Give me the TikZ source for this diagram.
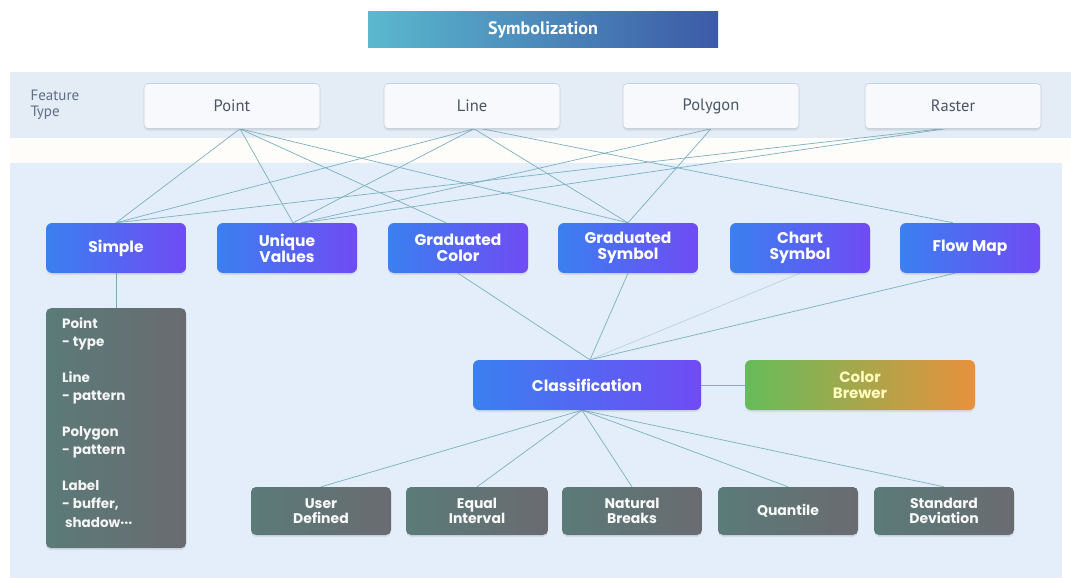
\documentclass[tikz,border=0pt]{standalone}
\usepackage{fontspec}
\setmainfont{PT Sans}
\newfontfamily\boxfont{Poppins}
\usetikzlibrary{shadows}
\pgfdeclarelayer{back}
\pgfdeclarelayer{lines}
\pgfsetlayers{back,lines,main}

\definecolor{bandblue}{HTML}{E4ECF6}
\definecolor{gapcream}{HTML}{FEFDFA}
\definecolor{panelblue}{HTML}{E3EEFA}
\definecolor{linkcol}{HTML}{7AB0BF}
\definecolor{titleL}{HTML}{5AB8CE}
\definecolor{titleR}{HTML}{3C5AA7}
\definecolor{symL}{HTML}{3A80F0}
\definecolor{symR}{HTML}{704BF4}
\definecolor{grayL}{HTML}{5A7B78}
\definecolor{grayR}{HTML}{6A6B70}
\definecolor{brewL}{HTML}{66BC5A}
\definecolor{brewR}{HTML}{E8913C}
\definecolor{fttext}{HTML}{5D6F86}
\definecolor{boxtext}{HTML}{4A5566}
\definecolor{boxedge}{HTML}{C6D1DE}

\tikzset{
  titlebox/.style={rectangle, minimum width=350, minimum height=36,
    left color=titleL, right color=titleR, text=white,
    font=\fontsize{18}{20}\selectfont\bfseries},
  ftbox/.style={rectangle, rounded corners=4pt, minimum width=176, minimum height=45,
    fill=white!70!bandblue, draw=boxedge, line width=0.6pt, text=boxtext,
    font=\fontsize{16.5}{18}\selectfont,
    drop shadow={opacity=0.18, shadow xshift=0pt, shadow yshift=-2pt}},
  symbox/.style={rectangle, rounded corners=6pt, minimum width=140, minimum height=50,
    left color=symL, right color=symR, text=white, align=center,
    font=\boxfont\fontsize{15.5}{16}\selectfont\bfseries,
    drop shadow={opacity=0.15, shadow xshift=0pt, shadow yshift=-2pt}},
  graybox/.style={rectangle, rounded corners=5pt, minimum width=140, minimum height=48,
    left color=grayL, right color=grayR, text=white!95!gray, align=center,
    font=\boxfont\fontsize{14}{15.5}\selectfont\bfseries,
    drop shadow={opacity=0.15, shadow xshift=0pt, shadow yshift=-2pt}},
  brewbox/.style={rectangle, rounded corners=6pt, minimum width=230, minimum height=50,
    left color=brewL, right color=brewR, text=white!75!yellow, align=center,
    font=\boxfont\fontsize{15}{16.5}\selectfont\bfseries,
    drop shadow={opacity=0.15, shadow xshift=0pt, shadow yshift=-2pt}},
  link/.style={draw=linkcol, line width=0.7pt},
}

\begin{document}
\begin{tikzpicture}[x=1pt, y=-1pt]
\useasboundingbox (0,0) rectangle (1071,578);

% backdrop bands
\begin{pgfonlayer}{back}
  \fill[white] (0,0) rectangle (1071,578);
  \fill[bandblue] (10,72) rectangle (1071,138);
  \fill[gapcream] (10,138) rectangle (1071,163);
  \fill[panelblue] (10,163) rectangle (1062,578);
\end{pgfonlayer}

% title
\node[titlebox] (title) at (543,30) {Symbolization};

% feature types
\node[anchor=west, align=left, text=fttext, font=\fontsize{15}{16.5}\selectfont] (ftype) at (27,105) {Feature\\Type};
\node[ftbox] (pt)  at (232,106) {Point};
\node[ftbox] (ln)  at (472,106) {Line};
\node[ftbox] (pg)  at (711,106) {Polygon};
\node[ftbox] (ras) at (953,106) {Raster};

% symbology methods
\node[symbox] (simple) at (116,248) {Simple};
\node[symbox] (uv) at (287,248) {Unique\\Values};
\node[symbox] (gc) at (458,248) {Graduated\\Color};
\node[symbox] (gs) at (628,248) {Graduated\\Symbol};
\node[symbox] (cs) at (800,248) {Chart\\Symbol};
\node[symbox] (fm) at (970,248) {Flow Map};

% details of simple symbols
\node[rectangle, rounded corners=5pt, minimum width=140, minimum height=240,
  left color=grayL, right color=grayR, anchor=north,
  drop shadow={opacity=0.15, shadow xshift=0pt, shadow yshift=-2pt}]
  (detail) at (116,308) {};
\node[anchor=north west, align=left, text=white!92!gray,
  font=\boxfont\fontsize{13.5}{18.5}\selectfont\bfseries, inner sep=0pt] (detailtext) at (62,317)
  {Point\\- type\\[17pt]Line\\- pattern\\[17pt]Polygon\\- pattern\\[17pt]Label\\- buffer,\\\ shadow\textperiodcentered\textperiodcentered\textperiodcentered};

% classification
\node[symbox, minimum width=228] (cls) at (587,385) {Classification};
\node[brewbox] (brew) at (860,385) {Color\\Brewer};

% classification methods
\node[graybox] (ud) at (321,511) {User\\Defined};
\node[graybox, minimum width=142] (ei) at (477,511) {Equal\\Interval};
\node[graybox] (nb) at (632,511) {Natural\\Breaks};
\node[graybox] (qt) at (788,511) {Quantile};
\node[graybox] (sd) at (944,511) {Standard\\Deviation};

% connectors
\begin{pgfonlayer}{lines}
  % feature type -> symbology
  \draw[link] ([xshift=8]pt.south) -- (simple.north);
  \draw[link] ([xshift=8]pt.south) -- ([xshift=6]uv.north);
  \draw[link] ([xshift=8]pt.south) -- ([xshift=-12]gc.north);
  \draw[link] ([xshift=8]pt.south) -- (gs.north);
  \draw[link] ([xshift=2]ln.south) -- (simple.north);
  \draw[link] ([xshift=2]ln.south) -- ([xshift=6]uv.north);
  \draw[link] ([xshift=2]ln.south) -- (gs.north);
  \draw[link] ([xshift=10]ln.south) -- ([xshift=-17]fm.north);
  \draw[link] (pg.south) -- ([xshift=14]uv.north);
  \draw[link] (pg.south) -- (gs.north);
  \draw[link] ([xshift=-12]ras.south) -- (simple.north);
  \draw[link] ([xshift=-8]ras.south) -- ([xshift=16]uv.north);
  % simple -> details
  \draw[link, draw=linkcol!80!gray] (simple.south) -- (detail.north);
  % symbology -> classification
  \draw[link] (gc.south) -- ([xshift=3]cls.north);
  \draw[link] (gs.south) -- ([xshift=3]cls.north);
  \draw[link, draw=linkcol!55!white] (cs.south) -- ([xshift=3]cls.north);
  \draw[link] ([xshift=-15]fm.south) -- ([xshift=3]cls.north);
  % classification -> color brewer
  \draw[link] (cls.east) -- (brew.west);
  % classification -> methods
  \draw[link] ([xshift=-5]cls.south) -- (ud.north);
  \draw[link] ([xshift=-5]cls.south) -- (ei.north);
  \draw[link] ([xshift=-5]cls.south) -- (nb.north);
  \draw[link] ([xshift=-5]cls.south) -- (qt.north);
  \draw[link] ([xshift=-5]cls.south) -- (sd.north);
\end{pgfonlayer}
\end{tikzpicture}
\end{document}
